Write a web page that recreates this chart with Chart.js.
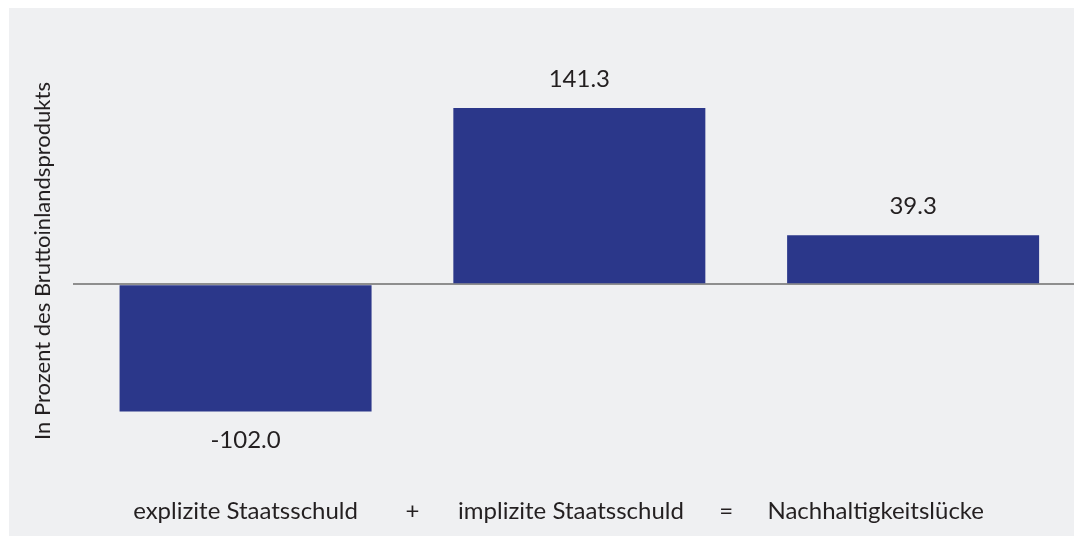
<!DOCTYPE html>
<html lang="de">
<head>
<meta charset="utf-8">
<title>Nachhaltigkeitslücke</title>
<script src="https://cdn.jsdelivr.net/npm/chart.js@4/dist/chart.umd.min.js"></script>
<style>
  html, body { margin: 0; padding: 0; background: #ffffff; overflow: hidden; }
  #panel { position: absolute; left: 9px; top: 8px; right: 0; bottom: 0; background: #eff0f2; }
  #chart { position: absolute; left: 0; top: 0; }
</style>
</head>
<body>
<div id="panel"></div>
<canvas id="chart" width="1074" height="536"></canvas>
<script>
// Components of the sustainability gap, in percent of GDP
const categories = ['explizite Staatsschuld', 'implizite Staatsschuld', 'Nachhaltigkeitslücke'];
const values = [-102.0, 141.3, 39.3];
const operators = ['+', '='];

// Axis label sequence: category, operator, category, operator, category
const axisLabels = [categories[0], operators[0], categories[1], operators[1], categories[2]];
// Where each axis label sits along the x scale (bar slots are 0, 1, 2)
const labelSlots = [0, 0.5, 0.975, 1.44, 1.888];

const TEXT = '#231f20';
const FONT = 'Lato';
const X_MIN = -0.517;
const X_MAX = 2.482;

// Writes each bar's value just beyond its end
const valueLabels = {
  id: 'valueLabels',
  afterDatasetsDraw(chart) {
    const ctx = chart.ctx;
    const meta = chart.getDatasetMeta(0);
    ctx.save();
    ctx.font = '24px ' + FONT;
    ctx.fillStyle = TEXT;
    ctx.textAlign = 'center';
    ctx.textBaseline = 'middle';
    meta.data.forEach((bar, i) => {
      const v = values[i];
      const y = v >= 0 ? bar.y - 29 : bar.y + 29;
      ctx.fillText(v.toFixed(1), bar.x, y);
    });
    ctx.restore();
  }
};

Chart.defaults.font.family = FONT;
Chart.defaults.color = TEXT;

new Chart(document.getElementById('chart'), {
  type: 'bar',
  data: {
    datasets: [{
      data: categories.map((c, i) => ({ x: i, y: values[i] })),
      backgroundColor: '#2b378a',
      borderWidth: 0,
      barPercentage: 0.755,
      categoryPercentage: 1
    }]
  },
  options: {
    responsive: false,
    animation: false,
    layout: { padding: { left: 9, right: 0, top: 36, bottom: 0 } },
    plugins: {
      legend: { display: false },
      tooltip: { enabled: false }
    },
    scales: {
      // Bar slots: one tick per category, no visible labels
      x: {
        type: 'linear',
        min: X_MIN,
        max: X_MAX,
        offset: false,
        grid: { display: false, drawTicks: false },
        border: { display: false },
        afterBuildTicks(scale) {
          scale.ticks = categories.map((c, i) => ({ value: i }));
        },
        ticks: { display: false }
      },
      // Label row with the operators between the categories
      xl: {
        axis: 'x',
        type: 'linear',
        position: 'bottom',
        min: X_MIN,
        max: X_MAX,
        offset: false,
        grid: { display: false, drawTicks: false },
        border: { display: false },
        afterBuildTicks(scale) {
          scale.ticks = labelSlots.map(v => ({ value: v }));
        },
        ticks: {
          autoSkip: false,
          maxRotation: 0,
          padding: 10.6,
          font: { size: 24 },
          color: TEXT,
          callback: (value, index) => axisLabels[index]
        }
      },
      y: {
        min: -161.6,
        max: 199.0,
        afterBuildTicks(scale) {
          scale.ticks = [{ value: 0 }];
        },
        grid: {
          drawTicks: false,
          lineWidth: 2,
          color: ctx => (ctx.tick && ctx.tick.value === 0) ? '#8e8e8e' : 'rgba(0,0,0,0)'
        },
        border: { display: false },
        ticks: { display: false },
        title: {
          display: true,
          text: 'In Prozent des Bruttoinlandsprodukts',
          font: { size: 22 },
          color: TEXT,
          padding: { top: 20.8, bottom: 16.8 }
        }
      }
    }
  },
  plugins: [valueLabels]
});
</script>
</body>
</html>
